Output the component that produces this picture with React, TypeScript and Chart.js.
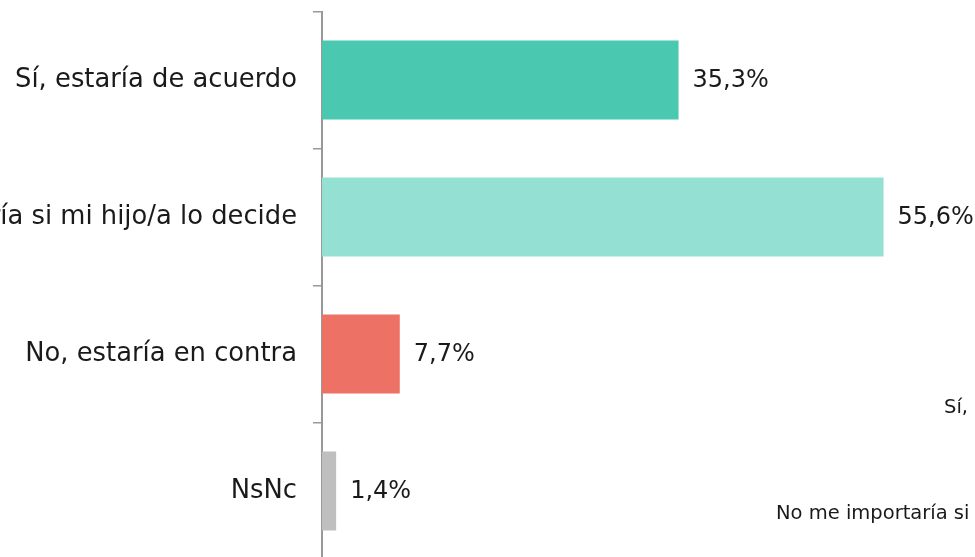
import React, { useEffect, useRef } from "react";
import { Chart, registerables } from "chart.js";

Chart.register(...registerables);

const categories = [
  "Sí, estaría de acuerdo",
  "No me importaría si mi hijo/a lo decide",
  "No, estaría en contra",
  "NsNc",
];
const values = [35.3, 55.6, 7.7, 1.4];
const valueLabels = ["35,3%", "55,6%", "7,7%", "1,4%"];
const barColors = ["#4AC9B0", "#94E1D3", "#ED7164", "#BFBFBF"];
const legendTexts = ["Sí, estaría de acuerdo", "No me importaría si mi hijo/a lo decide"];

const FONT = "'DejaVu Sans', sans-serif";
const OFFSET_LEFT = 200;
const CANVAS_W = 1175;
const CANVAS_H = 600;

const valueLabelPlugin = {
  id: "valueLabels",
  afterDatasetsDraw(chart: any) {
    const ctx = chart.ctx;
    const meta = chart.getDatasetMeta(0);
    ctx.save();
    ctx.font = `24px ${FONT}`;
    ctx.fillStyle = "#1a1a1a";
    ctx.textAlign = "left";
    ctx.textBaseline = "middle";
    meta.data.forEach((bar: any, i: number) => {
      ctx.fillText(valueLabels[i], bar.x + 14, bar.y + 1);
    });
    ctx.restore();
  },
};

export default function App() {
  const ref = useRef<HTMLCanvasElement | null>(null);
  useEffect(() => {
    if (!ref.current) return;
    const chart = new Chart(ref.current, {
      type: "bar",
      data: {
        labels: categories,
        datasets: [
          {
            data: values,
            backgroundColor: barColors,
            borderWidth: 0,
            categoryPercentage: 1,
            barPercentage: 0.575,
          },
        ],
      },
      options: {
        indexAxis: "y",
        responsive: false,
        animation: false,
        layout: {
          padding: {
            top: 11.5,
            bottom: CANVAS_H - 559.5,
            left: 0,
            right: CANVAS_W - (OFFSET_LEFT + 322 + 606),
          },
        },
        plugins: { legend: { display: false }, tooltip: { enabled: false } },
        scales: {
          x: { display: false, min: 0, max: 60 },
          y: {
            afterFit: (scale: any) => {
              scale.width = OFFSET_LEFT + 322;
              scale.paddingTop = 0;
              scale.paddingBottom = 0;
            },
            border: { display: true, color: "#999999", width: 2 },
            grid: {
              display: true,
              drawOnChartArea: false,
              drawTicks: true,
              tickLength: 9,
              color: "#999999",
              lineWidth: 1.5,
              offset: true,
            },
            ticks: {
              padding: 16,
              color: "#1a1a1a",
              font: { family: FONT, size: 25.8 },
            },
          },
        },
      },
      plugins: [valueLabelPlugin],
    });
    return () => chart.destroy();
  }, []);

  const legendStyle = {
    position: "absolute" as const,
    whiteSpace: "nowrap" as const,
    fontFamily: FONT,
    fontSize: 19.5,
    lineHeight: "20px",
    color: "#1a1a1a",
  };

  return (
    <div
      style={{
        position: "fixed",
        left: 0,
        top: 0,
        width: 975,
        height: 557,
        overflow: "hidden",
        background: "#ffffff",
      }}
    >
      <canvas
        ref={ref}
        width={CANVAS_W}
        height={CANVAS_H}
        style={{ position: "absolute", left: -OFFSET_LEFT, top: 0, width: CANVAS_W, height: CANVAS_H }}
      />
      <div style={{ ...legendStyle, left: 944, top: 397 }}>{legendTexts[0]}</div>
      <div style={{ ...legendStyle, left: 776, top: 503 }}>{legendTexts[1]}</div>
    </div>
  );
}
